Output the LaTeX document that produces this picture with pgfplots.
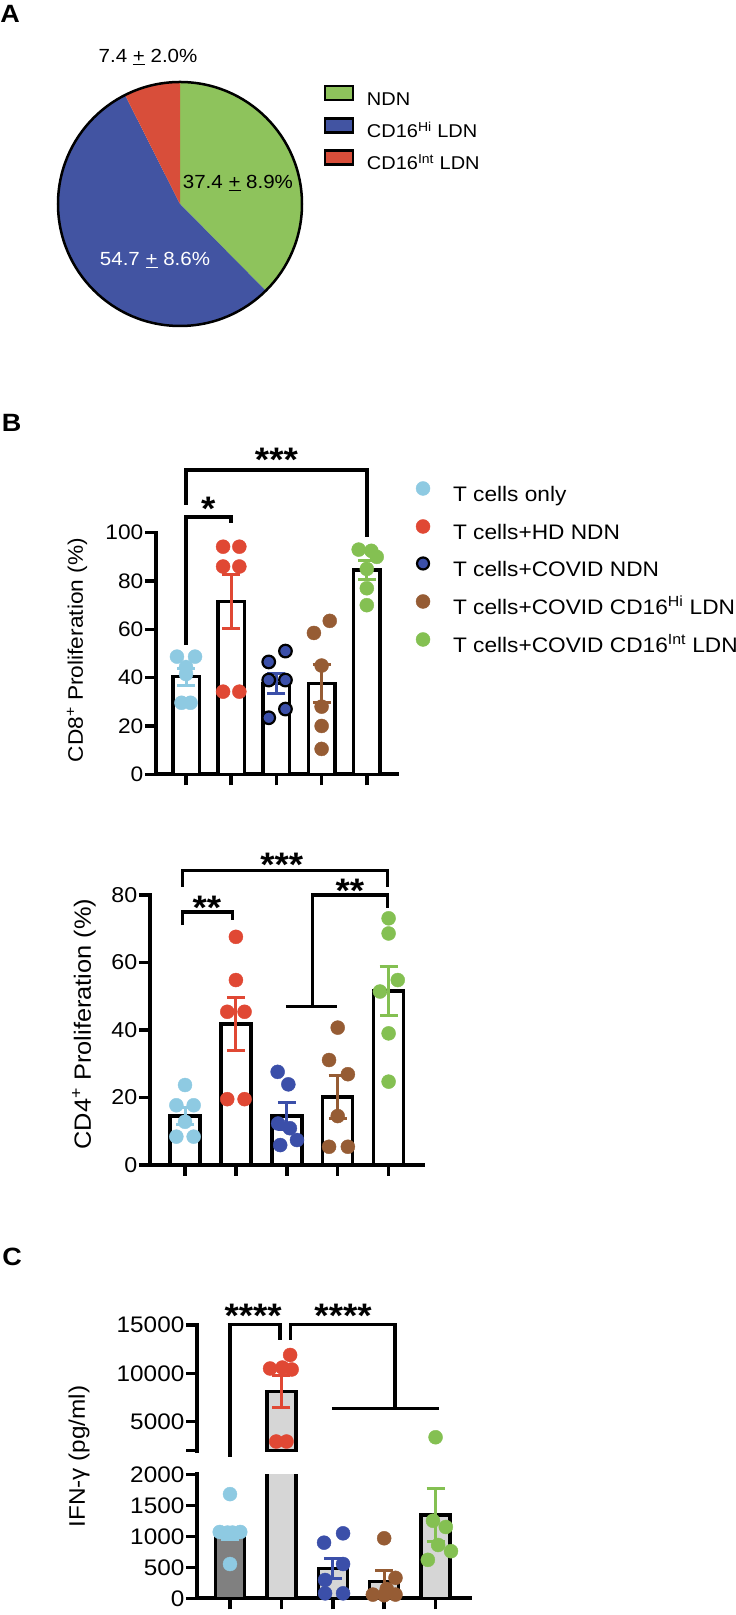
\documentclass[border=0pt]{standalone}
\usepackage{fontspec}
\setmainfont{Liberation Sans}[FakeStretch=1.08]
\usepackage{pgfplots}
\pgfplotsset{compat=1.18}
\definecolor{lblue}{RGB}{142,202,226}
\definecolor{cred}{RGB}{224,72,52}
\definecolor{dblue}{RGB}{59,79,169}
\definecolor{cbrown}{RGB}{150,92,52}
\definecolor{cgreen}{RGB}{132,192,82}
\definecolor{pgreen}{RGB}{142,195,92}
\definecolor{pblue}{RGB}{66,84,162}
\definecolor{pred}{RGB}{216,78,58}
\definecolor{dgray}{RGB}{128,128,128}
\definecolor{lgray}{RGB}{214,214,214}
\newcommand{\fs}[1]{\fontsize{#1}{#1}\selectfont}
\tikzset{stars/.style={font={\fs{34}\bfseries}, anchor=base, yshift=-19pt}}
\pgfplotsset{
  gp/.style={
    scale only axis, anchor=south west,
    axis x line*=bottom, axis y line*=left,
    axis line style={-, line width=4pt, line cap=rect},
    xtick pos=bottom, ytick pos=left,
    tick align=outside, major tick length=11pt,
    tick style={black, line width=3.5pt},
    xtick={0,1,2,3,4}, xticklabels={,,,,},
    minor tick num=0,
    scaled y ticks=false,
    /pgf/number format/assume math mode=true,
    /pgf/number format/1000 sep={},
    yticklabel style={inner sep=1.5pt},
    clip=false,
  },
  dots/.style={only marks, mark=*, mark size=7pt, color=#1, forget plot, mark options={solid}},
  eb/.style={forget plot, only marks, mark=*, mark size=0pt, color=#1, error bars/.cd, y dir=both, y explicit,
    error mark=|,
    error bar style={line width=3pt, color=#1, solid},
    error mark options={line width=3pt, mark size=9pt, color=#1}},
  brk/.style={black, line width=3.5pt, forget plot, mark=none},
}
\begin{document}
\begin{tikzpicture}
\useasboundingbox (0,0) rectangle (736pt,1615pt);
% panel letters
\node[font={\fs{25}\bfseries}] at (10pt,1601.5pt) {A};
\node[font={\fs{25}\bfseries}] at (11.5pt,1192.5pt) {B};
\node[font={\fs{25}\bfseries}] at (12pt,358pt) {C};

% ---------------- Panel A: pie ----------------
\pgfmathsetmacro{\tot}{37.4+54.7+7.4}
\pgfmathsetmacro{\aG}{37.4/\tot*360}
\pgfmathsetmacro{\aB}{54.7/\tot*360}
\pgfmathsetmacro{\aR}{7.4/\tot*360}
\pgfmathsetmacro{\sB}{90-\aG}
\pgfmathsetmacro{\eB}{90-\aG-\aB}
\pgfmathsetmacro{\eR}{90+\aR}
\begin{axis}[at={(58pt,1289pt)}, anchor=south west, scale only axis,
  width=244pt, height=244pt, xmin=-1, xmax=1, ymin=-1, ymax=1,
  hide axis, clip=false,
  legend style={draw=none, fill=none, inner sep=0pt, outer sep=0pt,
    at={(axis description cs:1.089,0.988)}, anchor=north west,
    row sep=8pt, column sep=12.75pt, font=\fs{18.5},
    nodes={inner sep=0pt, text height=14pt, text depth=4pt}},
  legend cell align=left,
  legend image code/.code={\draw[#1] (0pt,0pt) rectangle (28pt,14pt);},
]
\addlegendimage{fill=pgreen, draw=black, line width=2.5pt}
\addlegendimage{fill=pblue, draw=black, line width=2.5pt}
\addlegendimage{fill=pred, draw=black, line width=2.5pt}
\fill[pgreen] (axis cs:0,0) -- ++(90:122pt) arc[start angle=90, end angle=\sB, radius=122pt] -- cycle;
\fill[pblue] (axis cs:0,0) -- ++(\sB:122pt) arc[start angle=\sB, end angle=\eB, radius=122pt] -- cycle;
\fill[pred] (axis cs:0,0) -- ++(90:122pt) arc[start angle=90, end angle=\eR, radius=122pt] -- cycle;
\draw[black, line width=2.5pt] (axis cs:0,0) circle[radius=122pt];
\node[font=\fs{19}] at (axis cs:-0.262,1.205) {7.4 \underline{+} 2.0\%};
\node[font=\fs{19}] at (axis cs:0.475,0.172) {37.4 \underline{+} 8.9\%};
\node[font=\fs{19}, text=white] at (axis cs:-0.205,-0.459) {54.7 \underline{+} 8.6\%};
\legend{NDN, CD16\textsuperscript{Hi} LDN, CD16\textsuperscript{Int} LDN}
\end{axis}

% ---------------- Panel B: CD8 ----------------
\begin{axis}[gp, at={(156pt,840.7pt)}, width=241pt, height=241.6pt,
  xmin=-0.664, xmax=4.668, ymin=0, ymax=100, ytick={0,20,40,60,80,100},
  yticklabel style={font=\fs{21}},
  ylabel={CD8\textsuperscript{+} Proliferation (\%)},
  ylabel style={at={(axis description cs:-0.328,0.514)}, anchor=center, font=\fs{21}},
  legend style={draw=none, fill=none, inner sep=0pt, outer sep=0pt,
    at={(axis description cs:1.079,1.212)}, anchor=north west,
    row sep=13pt, column sep=23pt, font=\fs{21},
    nodes={inner sep=0pt, text height=16pt, text depth=5pt}},
  legend cell align=left,
  legend image code/.code={\draw[#1] plot coordinates {(7pt,7.5pt)};},
]
\addlegendimage{only marks, mark=*, mark size=7pt, color=lblue}
\addlegendimage{only marks, mark=*, mark size=7pt, color=cred}
\addlegendimage{only marks, mark=*, mark size=6pt, mark options={fill=dblue, draw=black, line width=2.2pt}}
\addlegendimage{only marks, mark=*, mark size=7pt, color=cbrown}
\addlegendimage{only marks, mark=*, mark size=7pt, color=cgreen}
\addplot[ybar, bar width=26.5pt, bar shift=0pt, draw=black, line width=3.5pt, fill=white, forget plot]
  coordinates {(0,40.4) (1,71.5) (2,37.6) (3,37.6) (4,84.6)};
\addplot[dots=lblue] coordinates {(-0.2,48.7) (0.2,48.7) (0,44.4) (0,41.5) (-0.1,29.6) (0.1,29.6)};
\addplot[dots=cred] coordinates {(0.82,94.2) (1.18,94.2) (0.82,86) (1.18,86) (0.82,34.2) (1.18,34.2)};
\addplot[dots=dblue, mark size=6.3pt, mark options={fill=dblue, draw=black, line width=2.2pt}]
  coordinates {(2.2,51) (1.83,46.5) (1.83,39) (2.2,39) (2.2,27) (1.83,23.4)};
\addplot[dots=cbrown] coordinates {(3.18,63.5) (2.83,58.5) (3,45) (3,28) (3,20) (3,10.5)};
\addplot[dots=cgreen] coordinates {(3.82,93) (4.1,92.5) (4.22,90) (4,85) (4,77) (4,70)};
\addplot[eb=lblue] coordinates {(0,40.4) +- (0,3.5)};
\addplot[eb=cred] coordinates {(1,71.5) +- (0,11)};
\addplot[eb=dblue] coordinates {(2,37.6) +- (0,4.2)};
\addplot[eb=cbrown] coordinates {(3,37.6) +- (0,7.8)};
\addplot[eb=cgreen] coordinates {(4,84.6) +- (0,4)};
\addplot[brk] coordinates {(0,53.5) (0,106.4) (1,106.4) (1,104)};
\addplot[brk] coordinates {(0,111.5) (0,126) (4,126) (4,98.3)};
\node[stars] at (axis cs:0.49,112.8) {*};
\node[stars] at (axis cs:2,133) {***};
\legend{T cells only, T cells+HD NDN, T cells+COVID NDN,
  T cells+COVID CD16\textsuperscript{Hi} LDN, T cells+COVID CD16\textsuperscript{Int} LDN}
\end{axis}

% ---------------- Panel B: CD4 ----------------
\begin{axis}[gp, at={(150pt,450pt)}, width=273pt, height=270pt,
  xmin=-0.688, xmax=4.676, ymin=0, ymax=80, ytick={0,20,40,60,80},
  yticklabel style={font=\fs{21.5}},
  ylabel={CD4\textsuperscript{+} Proliferation (\%)},
  ylabel style={at={(axis description cs:-0.242,0.522)}, anchor=center, font=\fs{23.5}},
]
\addplot[ybar, bar width=30pt, bar shift=0pt, draw=black, line width=3.5pt, fill=white, forget plot]
  coordinates {(0,14.5) (1,41.8) (2,14.5) (3,20.2) (4,51.5)};
\addplot[dots=lblue] coordinates {(0,23.7) (-0.17,17.7) (0.17,17.7) (0,12.8) (-0.17,8.4) (0.17,8.4)};
\addplot[dots=cred] coordinates {(1,67.6) (1,54.8) (0.83,45.4) (1.17,45.4) (0.83,19.5) (1.17,19.5)};
\addplot[dots=dblue] coordinates {(1.82,27.6) (2.03,23.9) (1.83,12.3) (2.06,10.9) (2.2,7.4) (1.87,5.9)};
\addplot[dots=cbrown] coordinates {(3,40.7) (2.83,31.1) (3.2,26.9) (3,14.5) (2.83,5.4) (3.2,5.4)};
\addplot[dots=cgreen] coordinates {(4,73.1) (4,68.6) (4.18,54.8) (3.83,51.4) (4,39) (4,24.7)};
\addplot[eb=lblue] coordinates {(0,14.5) +- (0,2.5)};
\addplot[eb=cred] coordinates {(1,41.8) +- (0,7.9)};
\addplot[eb=dblue] coordinates {(2,14.5) +- (0,4)};
\addplot[eb=cbrown] coordinates {(3,20.2) +- (0,6.4)};
\addplot[eb=cgreen] coordinates {(4,51.5) +- (0,7.3)};
\addplot[brk] coordinates {(-0.05,82.5) (-0.05,87.2) (3.98,87.2) (3.98,82.5)};
\addplot[brk] coordinates {(-0.05,71.1) (-0.05,75) (0.93,75) (0.93,72.6)};
\addplot[brk] coordinates {(2.5,46.9) (2.5,80) (3.98,80) (3.98,76.1)};
\addplot[brk] coordinates {(1.98,46.9) (2.99,46.9)};
\node[stars] at (axis cs:1.9,91) {***};
\node[stars] at (axis cs:0.43,78.5) {**};
\node[stars] at (axis cs:3.24,83.3) {**};
\end{axis}

% ---------------- Panel C: lower segment ----------------
\begin{axis}[gp, clip=true, at={(197pt,16.7pt)}, width=273pt, height=124pt,
  xmin=-0.642, xmax=4.67, ymin=0, ymax=2000, ytick={0,500,1000,1500,2000},
  yticklabel style={font=\fs{22.5}},
  ylabel={IFN-γ (pg/ml)},
  ylabel style={at={(axis description cs:-0.432,1.144)}, anchor=center, font=\fs{22.5}},
]
\addplot[ybar, bar width=29pt, bar shift=0pt, draw=black, line width=3.5pt, fill=dgray, forget plot]
  coordinates {(0,1040)};
\addplot[ybar, bar width=29pt, bar shift=0pt, draw=black, line width=3.5pt, fill=lgray, forget plot]
  coordinates {(1,8100) (2,480) (3,268) (4,1343)};
\addplot[dots=lblue] coordinates {(0,1680) (-0.2,1070) (0.2,1070) (-0.05,1060) (0.05,1060) (0,553)};
\addplot[dots=dblue] coordinates {(2.2,1048) (1.83,897) (2.2,553) (1.85,295) (1.85,80) (2.2,80)};
\addplot[dots=cbrown] coordinates {(3,968) (3.22,330) (3.05,150) (2.78,60) (3,50) (3.22,60)};
\addplot[dots=cgreen] coordinates {(3.95,1250) (4.2,1150) (4.05,860) (4.3,760) (3.85,620)};
\addplot[eb=lblue] coordinates {(0,1040) +- (0,90)};
\addplot[eb=dblue] coordinates {(2,480) +- (0,165)};
\addplot[eb=cbrown] coordinates {(3,268) +- (0,185)};
\addplot[eb=cgreen] coordinates {(4,1343) +- (0,420)};
\end{axis}

% ---------------- Panel C: upper segment ----------------
\begin{axis}[gp, at={(197pt,164.3pt)}, width=273pt, height=125.7pt,
  xmin=-0.642, xmax=4.67, ymin=2000, ymax=15000,
  axis x line=none, xtick=\empty,
  ytick={2000,5000,10000,15000}, yticklabels={,5000,10000,15000},
  yticklabel style={font=\fs{22.5}},
]
\addplot[fill=lgray, draw=black, line width=3.5pt, forget plot]
  coordinates {(0.718,2000) (0.718,8100) (1.282,8100) (1.282,2000)} -- cycle;
\addplot[dots=cred] coordinates {(1.17,11900) (0.78,10500) (1.02,10600) (1.2,10400) (0.9,2950) (1.1,2950)};
\addplot[dots=cgreen] coordinates {(4,3390)};
\addplot[eb=cred] coordinates {(1,8100) +- (0,1650)};
\addplot[brk] coordinates {(0,1382) (0,15072) (0.97,15072) (0.97,13450)};
\addplot[brk] coordinates {(1.18,13450) (1.18,15072) (3.21,15072) (3.21,6387)};
\addplot[brk] coordinates {(1.98,6387) (4.07,6387)};
\node[stars] at (axis cs:0.45,16727) {****};
\node[stars] at (axis cs:2.2,16727) {****};
\end{axis}
\end{tikzpicture}
\end{document}
